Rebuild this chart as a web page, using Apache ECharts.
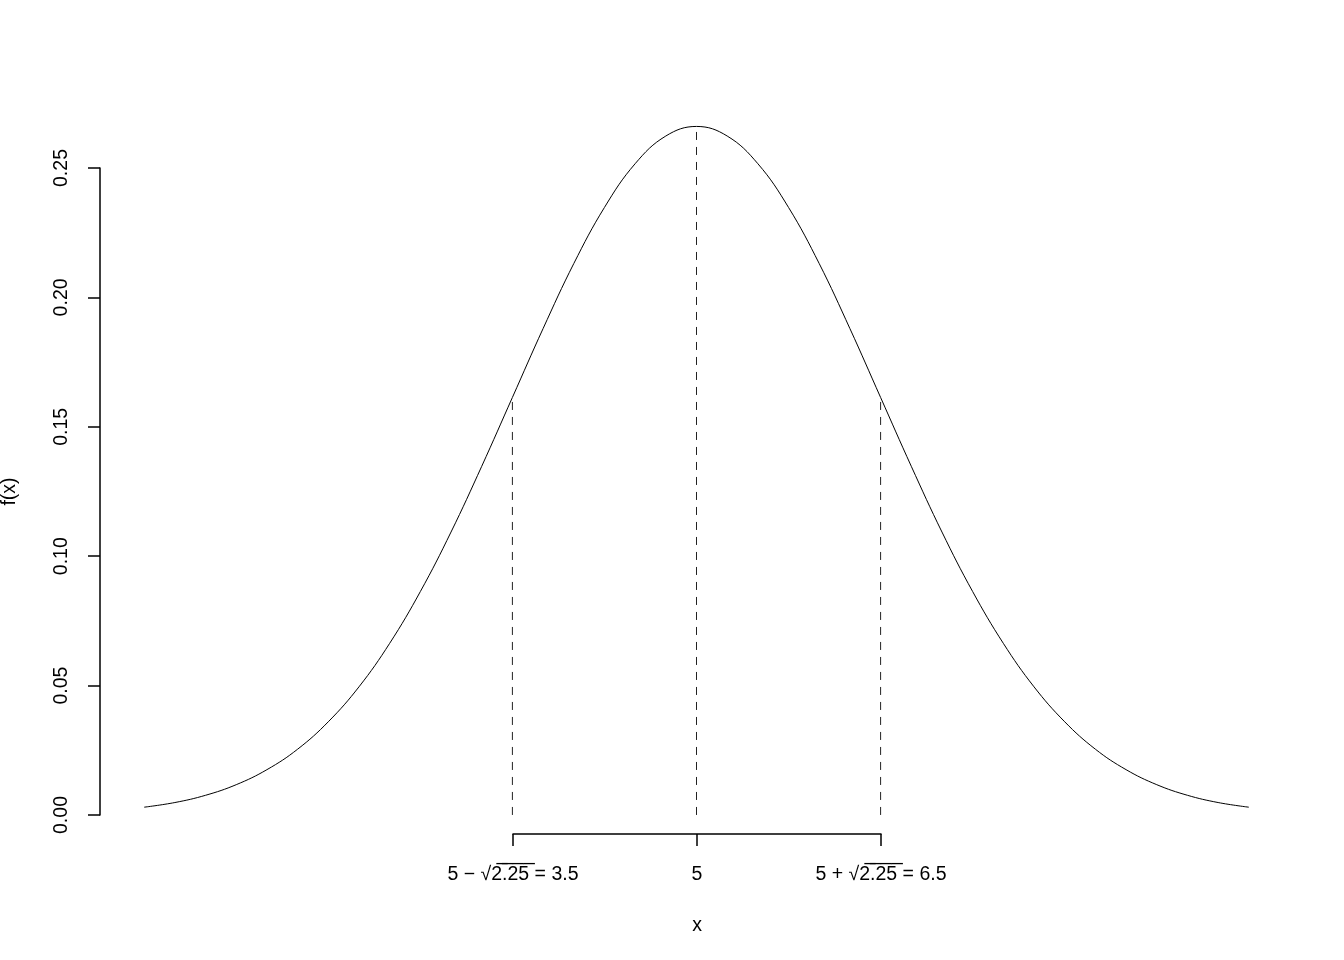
<!DOCTYPE html>
<html>
<head>
<meta charset="utf-8">
<script src="https://cdn.jsdelivr.net/npm/echarts@6/dist/echarts.min.js"></script>
<style>html,body{margin:0;padding:0;background:#fff}#c{width:1344px;height:960px}</style>
</head>
<body>
<div id="c"></div>
<script>
// Density curve (x, f(x))
const curveX = [0.5,0.75,1,1.25,1.5,1.75,2,2.25,2.5,2.75,3,3.25,3.5,3.75,4,4.25,4.5,4.75,5,
  5.25,5.5,5.75,6,6.25,6.5,6.75,7,7.25,7.5,7.75,8,8.25,8.5,8.75,9,9.25,9.5];
const curveY = [0.003,0.0048,0.0076,0.0117,0.0175,0.0254,0.0360,0.0495,0.0663,0.0863,0.1093,0.1347,0.1613,0.1879,0.2130,0.2347,0.2516,0.2623,0.2660,
  0.2623,0.2516,0.2347,0.2130,0.1879,0.1613,0.1347,0.1093,0.0863,0.0663,0.0495,0.0360,0.0254,0.0175,0.0117,0.0076,0.0048,0.003];
// Reference (dashed) lines: x position and height
const refX = [3.5, 5, 6.5];
const refTop = [0.1613, 0.2660, 0.1613];
// Axis ticks and labels
const xTicks = [3.5, 5, 6.5];
const xTickPre = ['5 \u2212 \u221A', '5', '5 + \u221A'];
const xTickRad = ['2.25', '', '2.25'];
const xTickPost = [' = 3.5', '', ' = 6.5'];
const yTicks = [0, 0.05, 0.10, 0.15, 0.20, 0.25];

const FONT = '"Liberation Sans", Arial, Helvetica, sans-serif';
const FS = 19.5;
const chart = echarts.init(document.getElementById('c'));

const series = [{
  type: 'line', xAxisIndex: 0, yAxisIndex: 0,
  data: curveX.map((x, i) => [x, curveY[i]]),
  smooth: 0.4, showSymbol: false, symbol: 'none',
  lineStyle: {color: '#000', width: 1}, silent: true
}];
refX.forEach((x, i) => {
  series.push({
    type: 'line', xAxisIndex: 0, yAxisIndex: 0,
    data: [[x, 0], [x, refTop[i]]],
    showSymbol: false, symbol: 'none', silent: true,
    lineStyle: {color: '#222', width: 1, type: [8, 7]}
  });
});

const labelRich = {
  n: {fontFamily: FONT, fontSize: FS, color: '#000'}
};
function fmtX(v) {
  const ov = s => s.split('').map(c => c + '\u0305').join('');
  const i = xTicks.findIndex(t => Math.abs(t - v) < 1e-6);
  if (i < 0) return '';
  let s = '{n|' + xTickPre[i] + '}';
  if (xTickRad[i]) s += '{n|' + ov(xTickRad[i]) + '}';
  if (xTickPost[i]) s += '{n|' + xTickPost[i] + '}';
  return s;
}

chart.setOption({
  animation: false,
  backgroundColor: '#fff',
  grid: [
    {left: 100, right: 51, top: 99, bottom: 117.5, outerBoundsMode: 'none', containLabel: false},
    {left: 100, width: 10, top: 168, bottom: 145, outerBoundsMode: 'none', containLabel: false},
    {left: 513, right: 463, top: 500, bottom: 126, outerBoundsMode: 'none', containLabel: false}
  ],
  xAxis: [
    {type: 'value', gridIndex: 0, min: 0.14, max: 9.86, show: false},
    {type: 'value', gridIndex: 1, min: 0, max: 1, show: false},
    {type: 'value', gridIndex: 2, min: 3.5, max: 6.5, interval: 1.5,
      axisLine: {show: true, lineStyle: {color: '#000', width: 1.5}},
      axisTick: {show: true, length: 12, inside: false, lineStyle: {color: '#000', width: 1.5}},
      splitLine: {show: false},
      axisLabel: {show: true, margin: 31, formatter: fmtX, rich: labelRich, showMinLabel: true, showMaxLabel: true, hideOverlap: false},
      name: 'x', nameLocation: 'middle', nameGap: 82,
      nameTextStyle: {fontFamily: FONT, fontSize: FS, color: '#000'}
    }
  ],
  yAxis: [
    {type: 'value', gridIndex: 0, min: -0.01064, max: 0.2766, show: false},
    {type: 'value', gridIndex: 1, min: 0, max: 0.25, interval: 0.05,
      axisLine: {show: true, lineStyle: {color: '#000', width: 1.5}},
      axisTick: {show: true, length: 12, inside: false, lineStyle: {color: '#000', width: 1.5}},
      splitLine: {show: false},
      axisLabel: {show: true, rotate: 90, margin: 28, fontFamily: FONT, fontSize: FS, color: '#000',
        formatter: v => v.toFixed(2)},
      name: 'f(x)', nameLocation: 'middle', nameGap: 80, nameRotate: 90,
      nameTextStyle: {fontFamily: FONT, fontSize: FS, color: '#000'}
    },
    {type: 'value', gridIndex: 2, min: 0, max: 1, show: false}
  ],
  series: series
});
</script>
</body>
</html>
